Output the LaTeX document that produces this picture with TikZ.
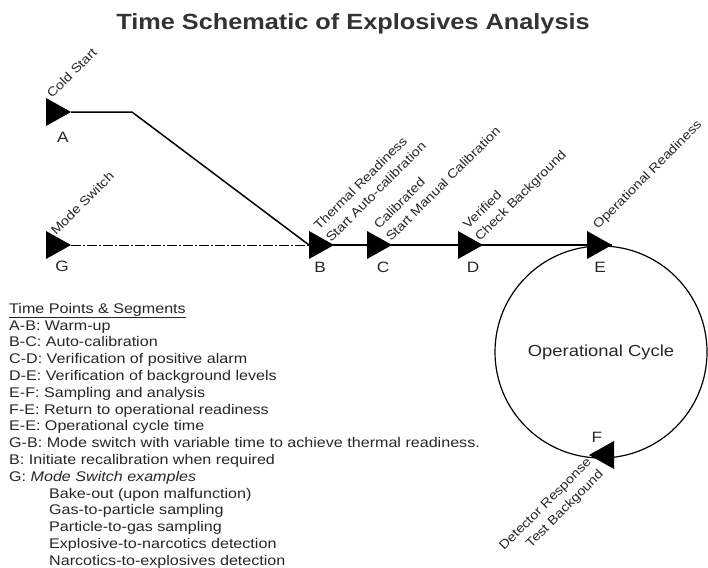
\documentclass[tikz,border=0pt]{standalone}
\usepackage{fontspec}
\setmainfont{Liberation Sans}[FakeStretch=1.15]
\begin{document}
\begin{tikzpicture}[x=1pt,y=1pt,
  marker/.pic={\fill[black] (0,14) -- (25,0) -- (0,-14) -- cycle;},
  tag/.style={font=\fontsize{12.6}{17}\selectfont, text=black!85, rotate=45, anchor=base west, align=left, inner sep=0pt},
  tagr/.style={tag, anchor=base east, align=right},
  letter/.style={font=\fontsize{15}{16}\selectfont, text=black!85, inner sep=0pt},
  legend/.style={font=\fontsize{14}{16.8}\selectfont, text=black!85, align=left, anchor=north west, inner sep=0pt},
  warmup/.style={line width=1.5pt},
  modeline/.style={line width=0.9pt, dash pattern=on 10pt off 2pt on 2pt off 2pt},
  mainline/.style={line width=2.6pt},
  cycle/.style={circle, draw, line width=1.2pt, minimum size=212pt, inner sep=0pt,
                font=\fontsize{16}{18}\selectfont, text=black!85}]
\useasboundingbox (0,0) rectangle (708,-567);

% title
\node[font=\bfseries\fontsize{22}{24}\selectfont, text=black!80, anchor=base] (title) at (353,-30) {Time Schematic of Explosives Analysis};

% time points (left edge centre of each marker)
\coordinate (A) at (46,-112);
\coordinate (G) at (46,-245);
\coordinate (B) at (309,-245);
\coordinate (C) at (367,-245);
\coordinate (D) at (458,-245);
\coordinate (E) at (587,-245);
\coordinate (F) at (614,-455);
\coordinate (At) at (71,-112);
\coordinate (Gt) at (71,-245);
\coordinate (Et) at (612,-245);
\coordinate (Abend) at (132,-112);

% operational cycle
\node[cycle] (cyc) at (601,-352) {Operational Cycle};

% connectors
\draw[warmup] (At) -- (Abend) -- (B);
\draw[modeline] (Gt) -- (B);
\draw[mainline] (B) -- (Et);

% markers
\pic at (A) {marker};
\pic at (G) {marker};
\pic at (B) {marker};
\pic at (C) {marker};
\pic at (D) {marker};
\pic at (E) {marker};
\pic[rotate=180] at (F) {marker};

% letters
\node[letter] (lA) at (63,-137) {A};
\node[letter] (lG) at (62,-266) {G};
\node[letter] (lB) at (320,-267) {B};
\node[letter] (lC) at (383,-267) {C};
\node[letter] (lD) at (473,-267) {D};
\node[letter] (lE) at (600,-267) {E};
\node[letter] (lF) at (597,-437) {F};

% rotated tags (anchor = baseline of last line)
\node[tag] (tA) at (52,-99) {Cold Start};
\node[tag] (tG) at (56,-236) {Mode Switch};
\node[tag] (tB) at (331,-243) {Thermal Readiness\\Start Auto-calibration};
\node[tag] (tC) at (391,-242) {Calibrated\\Start Manual Calibration};
\node[tag] (tD) at (480,-242) {Verified\\Check Background};
\node[tag] (tE) at (598,-230) {Operational Readiness};
\node[tagr] (tF) at (604,-475) {Detector Response\\Test Backgound};

% legend
\node[legend] (leg) at (9,-303) {\underline{Time Points \& Segments}\\
A-B: Warm-up\\
B-C: Auto-calibration\\
C-D: Verification of positive alarm\\
D-E: Verification of background levels\\
E-F: Sampling and analysis\\
F-E: Return to operational readiness\\
E-E: Operational cycle time\\
G-B: Mode switch with variable time to achieve thermal readiness.\\
B: Initiate recalibration when required\\
G: \textit{Mode Switch examples}\\
\hspace*{40pt}Bake-out (upon malfunction)\\
\hspace*{40pt}Gas-to-particle sampling\\
\hspace*{40pt}Particle-to-gas sampling\\
\hspace*{40pt}Explosive-to-narcotics detection\\
\hspace*{40pt}Narcotics-to-explosives detection};
\end{tikzpicture}
\end{document}
